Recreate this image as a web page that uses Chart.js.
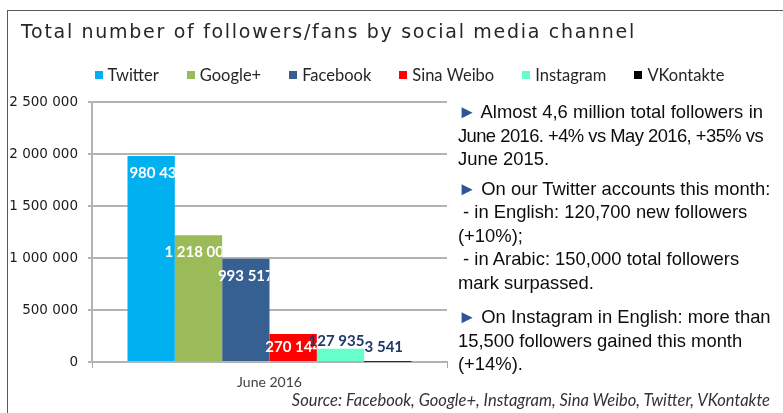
<!DOCTYPE html>
<html>
<head>
<meta charset="utf-8">
<script src="https://cdn.jsdelivr.net/npm/chart.js@4.4.1/dist/chart.umd.min.js"></script>
<style>
  html, body { margin: 0; padding: 0; background: #fff; }
  #wrap { position: relative; width: 783px; height: 413px; overflow: hidden; }
  #frame { position: absolute; left: 7px; top: 10px; width: 800px; height: 420px;
           border-top: 1px solid #595959; border-left: 1px solid #595959; }
  #chart { position: absolute; left: 0; top: 0; }
  #title { position: absolute; left: 21px; top: 20px; font: 19px 'DejaVu Sans'; letter-spacing: 1.7px;
           color: #262626; white-space: nowrap; line-height: 22px; }
  .para { position: absolute; left: 458px; width: 305px; font: 18.4px 'Liberation Sans';
          color: #0d0d0d; line-height: 23.5px; }
  .para div { white-space: nowrap; }
  .para div.j { white-space: normal; text-align: justify; text-align-last: justify; }
  .para div.tight { letter-spacing: -0.6px; }
  .tri { color: #2F5597; }
  #source { position: absolute; right: 13px; top: 391px; font: italic 16.5px Lato; color: #333;
            white-space: nowrap; line-height: 19px; }
</style>
</head>
<body>
<div id="wrap">
  <div id="frame"></div>
  <canvas id="chart" width="783" height="413"></canvas>
  <div id="title">Total number of followers/fans by social media channel</div>

  <div class="para" style="top:100px">
    <div class="j"><span class="tri">►</span> Almost 4,6 million total followers in</div>
    <div class="j tight">June 2016. +4% vs May 2016, +35% vs</div>
    <div>June 2015.</div>
  </div>
  <div class="para" style="top:176.5px">
    <div><span class="tri">►</span> On our Twitter accounts this month:</div>
    <div>&nbsp;- in English: 120,700 new followers</div>
    <div>(+10%);</div>
    <div>&nbsp;- in Arabic: 150,000 total followers</div>
    <div>mark surpassed.</div>
  </div>
  <div class="para" style="top:305px">
    <div><span class="tri">►</span> On Instagram in English: more than</div>
    <div>15,500 followers gained this month</div>
    <div>(+14%).</div>
  </div>

  <div id="source">Source: Facebook, Google+, Instagram, Sina Weibo, Twitter, VKontakte</div>
</div>

<script>
// data
const categories = ['June 2016'];
const seriesNames = ['Twitter', 'Google+', 'Facebook', 'Sina Weibo', 'Instagram', 'VKontakte'];
const twitter = [1980435];
const googlePlus = [1218000];
const facebook = [993517];
const sinaWeibo = [270144];
const instagram = [127935];
const vkontakte = [3541];
const yTicks = [0, 500000, 1000000, 1500000, 2000000, 2500000];

const seriesColors = ['#00B0F0', '#9BBB59', '#376092', '#FF0000', '#66FFCC', '#000000'];

// 1980435 -> "1 980 435"
const fmt = (v) => String(v).replace(/\B(?=(\d{3})+(?!\d))/g, ' ');

const datasets = [twitter, googlePlus, facebook, sinaWeibo, instagram, vkontakte].map((data, i) => ({
  label: seriesNames[i],
  data: data,
  backgroundColor: seriesColors[i],
  borderWidth: 0,
  barPercentage: 1,
  categoryPercentage: 0.8
}));

// legend drawn by hand so it can sit centred across the whole frame
const topLegend = {
  id: 'topLegend',
  afterDraw(chart) {
    const ctx = chart.ctx;
    const box = 8, gap = 5, spacing = 28;
    ctx.save();
    ctx.font = '16.5px Lato';
    ctx.textBaseline = 'middle';
    ctx.textAlign = 'left';
    const widths = chart.data.datasets.map(d => box + gap + ctx.measureText(d.label).width);
    const total = widths.reduce((a, b) => a + b, 0) + spacing * (widths.length - 1);
    let x = 409.5 - total / 2;
    const y = 75;
    chart.data.datasets.forEach((d, i) => {
      ctx.fillStyle = d.backgroundColor;
      ctx.fillRect(Math.round(x), y - box / 2, box, box);
      ctx.fillStyle = '#262626';
      ctx.fillText(d.label, x + box + gap, y + 1);
      x += widths[i] + spacing;
    });
    ctx.restore();
  }
};

// value labels; white ones get hidden under the next bar like in the original
const barLabels = {
  id: 'barLabels',
  afterDatasetsDraw(chart) {
    const ctx = chart.ctx;
    ctx.save();
    ctx.font = 'bold 15px Lato';
    ctx.textAlign = 'center';
    ctx.textBaseline = 'middle';
    chart.data.datasets.forEach((d, i) => {
      const bar = chart.getDatasetMeta(i).data[0];
      const h = bar.base - bar.y;
      const text = fmt(d.data[0]);
      ctx.save();
      if (h > 20) {
        ctx.beginPath();
        ctx.rect(0, 0, bar.x + bar.width / 2, chart.height);
        ctx.clip();
        ctx.fillStyle = '#ffffff';
        ctx.fillText(text, bar.x, bar.y + Math.min(17, h / 2));
      } else {
        ctx.fillStyle = '#1F3864';
        ctx.fillText(text, bar.x - 4, Math.min(bar.y - 7.5, bar.base - 14));
      }
      ctx.restore();
    });
    ctx.restore();
  }
};

new Chart(document.getElementById('chart'), {
  type: 'bar',
  data: { labels: categories, datasets: datasets },
  options: {
    responsive: false,
    devicePixelRatio: 1,
    animation: false,
    layout: { padding: { top: 102, left: 0, right: 0, bottom: 21 } },
    plugins: {
      legend: { display: false },
      tooltip: { enabled: false }
    },
    scales: {
      x: {
        offset: true,
        grid: { drawOnChartArea: false, drawTicks: true, tickLength: 6, color: '#a6a6a6', offset: true },
        border: { display: true, color: '#b3b3b3', width: 2 },
        ticks: { color: '#404040', font: { family: 'Lato', size: 14 }, padding: 6 },
        afterFit: (s) => { s.height = 30; }
      },
      y: {
        min: 0,
        max: 2500000,
        afterBuildTicks: (s) => { s.ticks = yTicks.map(v => ({ value: v })); },
        grid: { color: '#b3b3b3', lineWidth: 2, tickLength: 4 },
        border: { display: true, color: '#b3b3b3', width: 2 },
        ticks: { color: '#1a1a1a', font: { family: 'DejaVu Sans', size: 13.5 }, padding: 10, callback: (v) => fmt(v) },
        afterFit: (s) => { s.width = 92; }
      },
      // empty axis that just keeps the plot clear of the text block on the right
      side: {
        position: 'right',
        display: true,
        grid: { display: false },
        border: { display: false },
        ticks: { display: false },
        afterFit: (s) => { s.width = 336; }
      }
    }
  },
  plugins: [topLegend, barLabels]
});
</script>
</body>
</html>
